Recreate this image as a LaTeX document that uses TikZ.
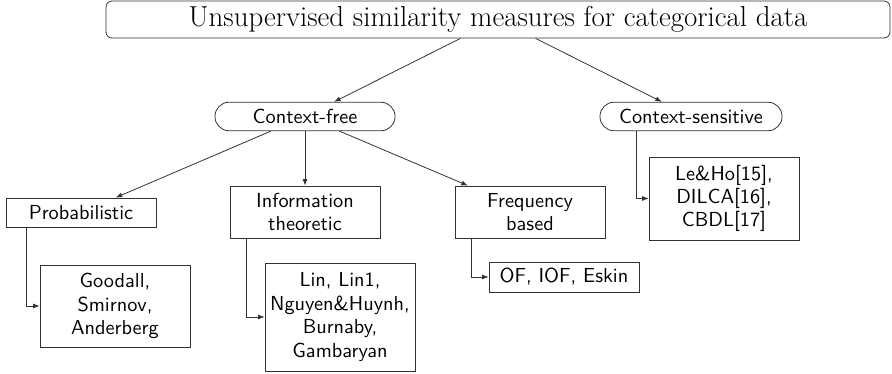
\documentclass[tikz,border=0pt]{standalone}
\usepackage{fontspec}
\newfontfamily\sfx{lmsans10-regular.otf}
\newfontfamily\rmx{lmroman17-regular.otf}
\usetikzlibrary{arrows.meta,calc}
\begin{document}
\begin{tikzpicture}[x=1pt,y=-1pt,
  box/.style={draw=black!80, line width=0.8pt, inner sep=0pt, align=center,
    minimum width=150pt, font=\sfx\fontsize{20.3}{23.4}\selectfont},
  pill/.style={box, rounded corners=14pt, minimum height=28.5pt},
  arr/.style={-{Latex[length=6.5pt,width=5pt]}, line width=0.8pt, draw=black!80}]
\useasboundingbox (0,0) rectangle (892,374);
\node[box, rounded corners=6pt, minimum width=784pt, minimum height=37pt,
  font=\rmx\fontsize{28.9}{32}\selectfont] (title) at (498,19.5)
  {Unsupervised similarity measures for categorical data};
\node[pill, minimum width=180pt] (cf) at (305,116.5) {Context-free};
\node[pill, minimum width=182pt] (cs) at (691,116.5) {Context-sensitive};
\node[box, minimum height=29pt] (prob) at (81,212.5) {Probabilistic};
\node[box, minimum height=52pt] (info) at (305,212) {Information\\theoretic};
\node[box, minimum height=52pt] (freq) at (530,212) {Frequency\\based};
\node[box, minimum height=82pt] (good) at (115,306) {Goodall,\\Smirnov,\\Anderberg};
\node[box, minimum height=108pt] (lin) at (340,317) {Lin, Lin1,\\Nguyen\&Huynh,\\Burnaby,\\Gambaryan};
\node[box, minimum height=30pt] (of) at (564,277) {OF, IOF, Eskin};
\node[box, minimum height=83pt] (leho) at (724,198.5) {Le\&Ho[15],\\DILCA[16],\\CBDL[17]};
\draw[arr] (title) -- (cf);
\draw[arr] (title) -- (cs);
\draw[arr] (cf) -- (prob);
\draw[arr] (cf) -- (info);
\draw[arr] (cf) -- (freq);
\draw[arr] ($(prob.south west)+(20.7,0)$) |- (good.west);
\draw[arr] ($(info.south west)+(17,0)$) |- (lin.west);
\draw[arr] ($(freq.south west)+(17,0)$) |- (of.west);
\draw[arr] ($(cs.south west)+(37,0)$) |- (leho.west);
\end{tikzpicture}
\end{document}
